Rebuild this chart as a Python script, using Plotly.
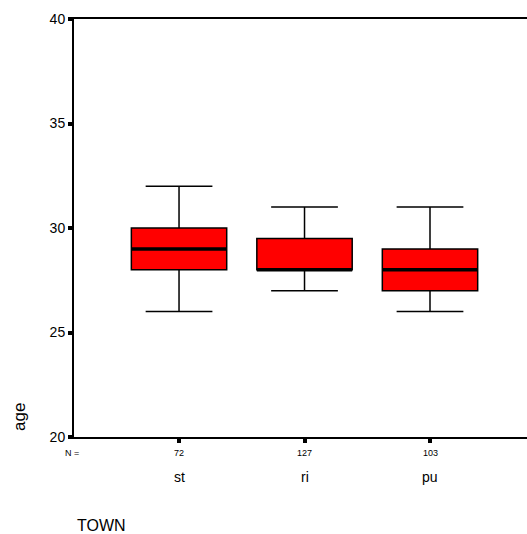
import plotly.graph_objects as go

towns = ["st", "ri", "pu"]
counts = [72, 127, 103]
lower_whisker = [26, 27, 26]
q1 = [28, 28, 27]
median = [29, 28, 28]
q3 = [30, 29.5, 29]
upper_whisker = [32, 31, 31]
y_ticks = [20, 25, 30, 35, 40]

pos = list(range(len(towns)))
box_w = 0.76
font = "Liberation Sans, Arial, sans-serif"

fig = go.Figure()
for i, t in enumerate(towns):
    fig.add_trace(go.Box(
        x=[pos[i]], q1=[q1[i]], median=[median[i]], q3=[q3[i]],
        lowerfence=[lower_whisker[i]], upperfence=[upper_whisker[i]],
        width=box_w, whiskerwidth=0.7, fillcolor="#ff0000",
        line=dict(color="black", width=1.5), boxpoints=False,
        name=t, showlegend=False, hoverinfo="skip"))
    fig.add_trace(go.Scatter(
        x=[pos[i] - box_w / 2, pos[i] + box_w / 2], y=[median[i], median[i]],
        mode="lines", line=dict(color="black", width=3.5),
        showlegend=False, hoverinfo="skip"))

annotations = [dict(x=0, y=0, xref="paper", yref="paper", text="N =",
                    showarrow=False, xanchor="center", yanchor="middle",
                    yshift=-16, xshift=-2, font=dict(size=9, family=font, color="black"))]
for i, t in enumerate(towns):
    annotations.append(dict(x=pos[i], y=0, xref="x", yref="paper", text=str(counts[i]),
                            showarrow=False, yanchor="middle", yshift=-16,
                            font=dict(size=9, family=font, color="black")))
    annotations.append(dict(x=pos[i], y=0, xref="x", yref="paper", text=t,
                            showarrow=False, yanchor="middle", yshift=-40,
                            font=dict(size=14, family=font, color="black")))
annotations.append(dict(x=0, y=0, xref="paper", yref="paper", text="TOWN",
                        showarrow=False, xanchor="left", yanchor="middle",
                        yshift=-88, xshift=1, font=dict(size=16, family=font, color="black")))
annotations.append(dict(x=0, y=0, xref="paper", yref="paper", text="age",
                        showarrow=False, xanchor="center", yanchor="middle",
                        textangle=-90, xshift=-55, yshift=20,
                        font=dict(size=17, family=font, color="black")))

fig.update_layout(
    width=527, height=534,
    margin=dict(l=74, r=0, t=19, b=97),
    plot_bgcolor="white", paper_bgcolor="white",
    font=dict(family=font, color="black"),
    annotations=annotations,
    xaxis=dict(range=[-0.837, 2.773], tickvals=pos, ticktext=[""] * len(pos),
               showgrid=False, zeroline=False, showline=True, linecolor="black",
               linewidth=2, mirror=True, ticks="outside", ticklen=4, tickwidth=4,
               tickcolor="black"),
    yaxis=dict(range=[20, 40], tickvals=y_ticks, showgrid=False, zeroline=False,
               showline=True, linecolor="black", linewidth=2, ticks="outside",
               ticklen=4, tickwidth=4, tickcolor="black",
               tickfont=dict(size=14, family=font, color="black")),
)

fig.write_html("out.html")
